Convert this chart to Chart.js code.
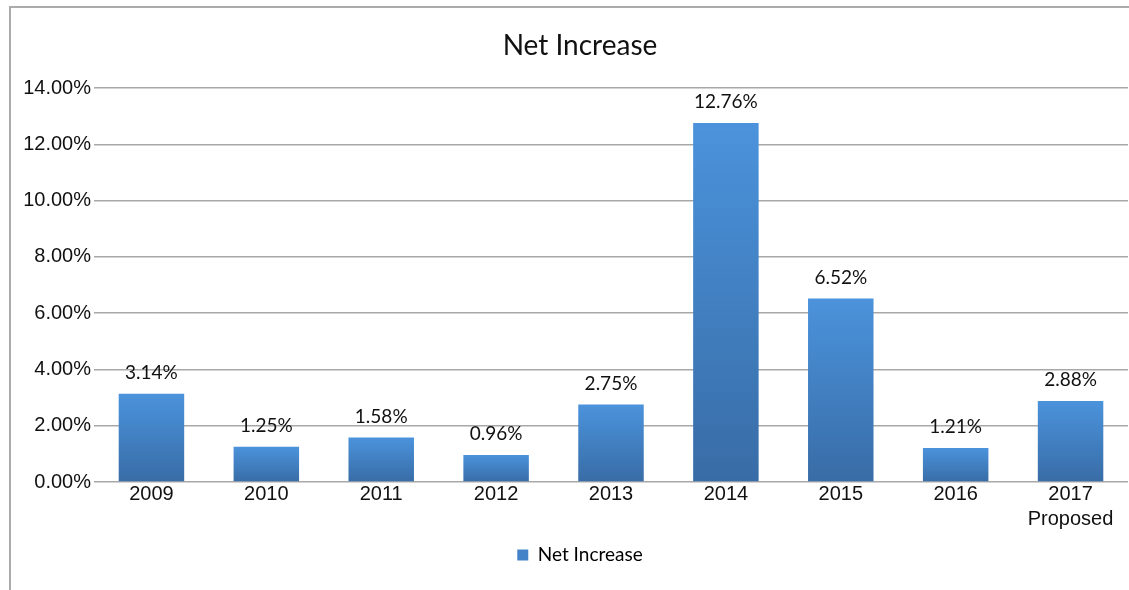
<!DOCTYPE html>
<html>
<head>
<meta charset="utf-8">
<title>Net Increase</title>
<script src="https://cdn.jsdelivr.net/npm/chart.js@4/dist/chart.umd.min.js"></script>
<style>
  html, body { margin: 0; padding: 0; background: #ffffff; overflow: hidden; width: 1129px; height: 590px; }
  #frame { position: absolute; left: 9px; top: 6px; width: 2000px; height: 1000px;
           border-left: 2px solid #ababab; border-top: 2px solid #ababab; }
  #chart { position: absolute; left: 10px; top: 8px; }
</style>
</head>
<body>
<div id="frame"></div>
<canvas id="chart" width="1144" height="582"></canvas>
<script>
// Yearly net increase, in percent
const years = ['2009', '2010', '2011', '2012', '2013', '2014', '2015', '2016', ['2017', 'Proposed']];
const netIncrease = [3.14, 1.25, 1.58, 0.96, 2.75, 12.76, 6.52, 1.21, 2.88];
const yTicks = [0, 2, 4, 6, 8, 10, 12, 14];
const seriesName = 'Net Increase';

const BAR_TOP = '#4b93dc';
const BAR_BOTTOM = '#386ca6';

function pct(v) { return v.toFixed(2) + '%'; }

// Vertical gradient per bar, from its top down to the zero line
function barFill(ctx) {
  const chart = ctx.chart;
  if (!chart.chartArea || ctx.type !== 'data') return BAR_TOP;
  const y = chart.scales.y;
  const top = y.getPixelForValue(ctx.raw);
  const base = y.getPixelForValue(0);
  if (!isFinite(top) || base - top < 1) return BAR_TOP;
  const g = chart.ctx.createLinearGradient(0, top, 0, base);
  g.addColorStop(0, BAR_TOP);
  g.addColorStop(1, BAR_BOTTOM);
  return g;
}

// Value labels above each bar
const valueLabels = {
  id: 'valueLabels',
  afterDatasetsDraw(chart) {
    const c = chart.ctx;
    const meta = chart.getDatasetMeta(0);
    c.save();
    c.font = '19px Lato, "Open Sans", sans-serif';
    c.fillStyle = '#111111';
    c.textAlign = 'center';
    c.textBaseline = 'middle';
    meta.data.forEach((bar, i) => {
      c.fillText(pct(netIncrease[i]), bar.x, bar.y - 21);
    });
    c.restore();
  }
};

new Chart(document.getElementById('chart'), {
  type: 'bar',
  data: {
    labels: years,
    datasets: [{
      label: seriesName,
      data: netIncrease,
      backgroundColor: barFill,
      borderWidth: 0,
      barPercentage: 0.57,
      categoryPercentage: 1.0
    }]
  },
  options: {
    responsive: false,
    animation: false,
    devicePixelRatio: 1,
    layout: { padding: { left: 22, right: 26, top: 0, bottom: 15.5 } },
    plugins: {
      title: {
        display: true,
        text: 'Net Increase',
        color: '#111111',
        font: { family: 'Lato, "Open Sans", sans-serif', size: 28, weight: 'normal', lineHeight: 1.2 },
        padding: { top: 21, bottom: 25.4 }
      },
      legend: {
        display: true,
        position: 'bottom',
        labels: {
          color: '#111111',
          font: { family: 'Lato, "Open Sans", sans-serif', size: 19 },
          boxWidth: 11,
          boxHeight: 11,
          padding: 10,
          generateLabels(chart) {
            return [{
              text: seriesName,
              fillStyle: '#4583c8',
              strokeStyle: '#4583c8',
              lineWidth: 0,
              datasetIndex: 0,
              hidden: false
            }];
          }
        }
      },
      tooltip: { enabled: false }
    },
    scales: {
      x: {
        grid: { display: false, drawTicks: false },
        border: { display: false },
        ticks: {
          color: '#111111',
          font: { family: '"Liberation Sans", Arial, sans-serif', size: 20, lineHeight: 1.25 },
          padding: 0,
          maxRotation: 0,
          autoSkip: false
        },
        afterFit(s) { s.height = 53.5; }
      },
      y: {
        min: 0,
        max: 14,
        afterBuildTicks(s) { s.ticks = yTicks.map(v => ({ value: v })); },
        grid: { color: '#a8a8a8', lineWidth: 1.5, drawTicks: false },
        border: { display: false },
        ticks: {
          color: '#111111',
          font: { family: '"Liberation Sans", Arial, sans-serif', size: 20 },
          padding: 3,
          callback: v => pct(v)
        },
        afterFit(s) {
          s.width = 62;
          // tick labels reach a little left of the narrowed axis box; let them draw unclipped
          s._computeLabelArea = () => undefined;
        }
      }
    }
  },
  plugins: [valueLabels]
});
</script>
</body>
</html>
